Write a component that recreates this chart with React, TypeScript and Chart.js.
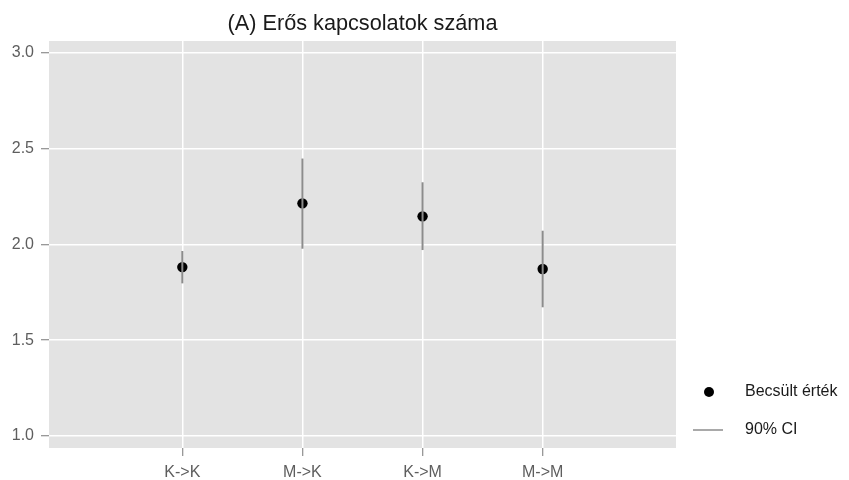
import React, { useEffect, useRef } from 'react';
import { Chart, registerables } from 'chart.js';

Chart.register(...registerables);

const categories = ['K->K', 'M->K', 'K->M', 'M->M'];
const estimates = [1.882, 2.215, 2.147, 1.872];
const ciLow = [1.797, 1.978, 1.971, 1.672];
const ciHigh = [1.966, 2.449, 2.325, 2.072];
const yTicks = [1.0, 1.5, 2.0, 2.5, 3.0];
const titleText = '(A) Erős kapcsolatok száma';
const legendLabels = ['Becsült érték', '90% CI'];

const FONT = '"Liberation Sans", Arial, sans-serif';
const TICK_COLOR = '#5e5e5e';
const CI_COLOR = '#8c8c8c';

// grey panel behind the grid, ggplot style
const panelBackground = {
  id: 'panelBackground',
  beforeDraw(chart: Chart) {
    const { ctx, chartArea } = chart;
    ctx.save();
    ctx.fillStyle = '#e3e3e3';
    ctx.fillRect(chartArea.left, chartArea.top, chartArea.right - chartArea.left, chartArea.bottom - chartArea.top);
    ctx.restore();
  }
};

// title above the panel and the legend in the right margin
const titleAndLegend = {
  id: 'titleAndLegend',
  afterDraw(chart: Chart) {
    const { ctx, chartArea } = chart;
    ctx.save();
    ctx.fillStyle = '#1a1a1a';
    ctx.font = `21.7px ${FONT}`;
    ctx.textAlign = 'center';
    ctx.textBaseline = 'middle';
    ctx.fillText(titleText, (chartArea.left + chartArea.right) / 2, 24);

    // point key
    ctx.beginPath();
    ctx.arc(709, 392, 5, 0, Math.PI * 2);
    ctx.fillStyle = '#000';
    ctx.fill();
    // line key
    ctx.beginPath();
    ctx.moveTo(693, 430);
    ctx.lineTo(723, 430);
    ctx.strokeStyle = CI_COLOR;
    ctx.lineWidth = 1.5;
    ctx.stroke();

    ctx.fillStyle = '#1a1a1a';
    ctx.font = `16px ${FONT}`;
    ctx.textAlign = 'left';
    ctx.fillText(legendLabels[0], 745, 392);
    ctx.fillText(legendLabels[1], 745, 430);
    ctx.restore();
  }
};

export default function App() {
  const chartRef = useRef<HTMLCanvasElement>(null);
  const chartInstance = useRef<Chart | null>(null);

  useEffect(() => {
    document.body.style.margin = '0';
    if (!chartRef.current) return;
    if (chartInstance.current) chartInstance.current.destroy();

    const ciSets = categories.map((_, i) => ({
      type: 'line' as const,
      label: `ci-${i}`,
      data: [
        { x: i, y: ciLow[i] },
        { x: i, y: ciHigh[i] }
      ],
      borderColor: CI_COLOR,
      borderWidth: 2,
      pointRadius: 0,
      showLine: true
    }));

    chartInstance.current = new Chart(chartRef.current, {
      type: 'scatter',
      data: {
        datasets: [
          ...ciSets,
          {
            type: 'scatter' as const,
            label: legendLabels[0],
            data: estimates.map((v, i) => ({ x: i, y: v })),
            backgroundColor: '#000',
            borderWidth: 0,
            pointRadius: 5.2
          }
        ]
      },
      options: {
        animation: false,
        responsive: false,
        maintainAspectRatio: false,
        layout: { padding: { top: 41, right: 173, left: 0, bottom: 0 } },
        plugins: {
          legend: { display: false },
          title: { display: false },
          tooltip: { enabled: false }
        },
        scales: {
          x: {
            type: 'linear',
            min: -1.11,
            max: 4.11,
            afterBuildTicks: (scale: any) => {
              scale.ticks = categories.map((_, i) => ({ value: i }));
            },
            afterFit: (scale: any) => {
              scale.height = 32;
            },
            ticks: {
              autoSkip: false,
              maxRotation: 0,
              padding: 7,
              color: TICK_COLOR,
              font: { family: FONT, size: 16 },
              callback: (v: any) => categories[v as number] ?? ''
            },
            grid: {
              color: '#ffffff',
              lineWidth: 1.5,
              tickColor: '#777777',
              tickLength: 8,
              tickWidth: 1
            },
            border: { display: false }
          },
          y: {
            type: 'linear',
            min: 0.937,
            max: 3.063,
            afterBuildTicks: (scale: any) => {
              scale.ticks = yTicks.map((v) => ({ value: v }));
            },
            afterFit: (scale: any) => {
              scale.width = 49;
            },
            ticks: {
              padding: 7,
              color: TICK_COLOR,
              font: { family: FONT, size: 16 },
              callback: (v: any) => Number(v).toFixed(1)
            },
            grid: {
              color: '#ffffff',
              lineWidth: 1.5,
              tickColor: '#777777',
              tickLength: 8,
              tickWidth: 1
            },
            border: { display: false }
          }
        }
      },
      plugins: [panelBackground, titleAndLegend]
    });

    return () => {
      if (chartInstance.current) {
        chartInstance.current.destroy();
        chartInstance.current = null;
      }
    };
  }, []);

  return (
    <div style={{ width: 849, height: 480, background: '#fff' }}>
      <canvas ref={chartRef} width={849} height={480} />
    </div>
  );
}
